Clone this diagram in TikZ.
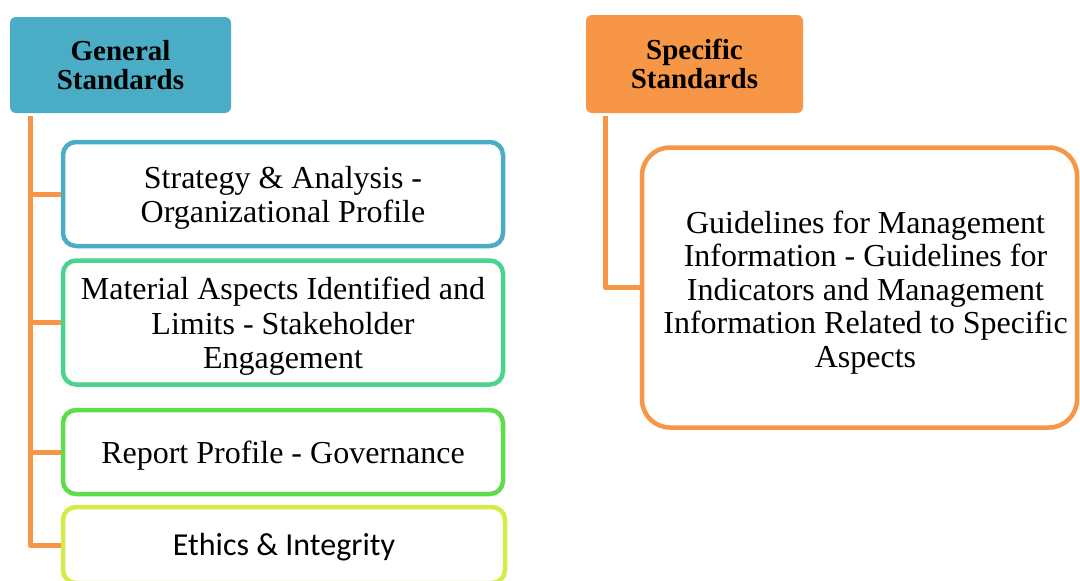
\documentclass[tikz,border=0pt]{standalone}
\usepackage{fontspec}
\setmainfont{Liberation Serif}
\newfontfamily\calibrilike{Carlito}
% fixed first-line height and last-line depth, so text sits a little low in its box
\newcommand\firstline[1]{\rule{0pt}{#1}}
\newcommand\lastline{\rule[-7pt]{0pt}{7pt}}
\begin{document}
\begin{tikzpicture}[x=1pt,y=-1pt,
  header/.style={rectangle, rounded corners=6pt, draw=none, inner sep=0pt,
    align=center, font=\fontsize{29}{29}\selectfont\bfseries, text=black},
  item/.style={rectangle, rounded corners=13pt, draw, line width=4.5pt, fill=white,
    inner sep=0pt, align=center, font=\fontsize{32}{34.5}\selectfont, text=black},
  link/.style={draw=linkorange, line width=5pt, line join=round, line cap=butt}
]
\definecolor{headblue}{HTML}{4BACC6}
\definecolor{headorange}{HTML}{F79646}
\definecolor{linkorange}{HTML}{F79646}
\definecolor{boxblue}{HTML}{4BACC6}
\definecolor{boxteal}{HTML}{4AD38F}
\definecolor{boxgreen}{HTML}{5DDD49}
\definecolor{boxlime}{HTML}{D5EB48}

\clip (0,0) rectangle (1080,581);
\fill[white] (0,0) rectangle (1080,581);

% column heads
\node[header, fill=headblue, minimum width=221pt, minimum height=96pt] (gen) at (120.5,65) {General\\Standards};
\node[header, fill=headorange, minimum width=217pt, minimum height=98pt] (spec) at (694.5,64) {Specific\\Standards};

% general standards items
\node[item, draw=boxblue, minimum width=440pt, minimum height=104pt] (b1) at (283,194)
  {\firstline{30pt}Strategy \& Analysis -\\Organizational Profile\lastline};
\node[item, draw=boxteal, minimum width=440pt, minimum height=124pt] (b2) at (283,322.5)
  {\firstline{30pt}Material Aspects Identified and\\Limits - Stakeholder\\Engagement\lastline};
\node[item, draw=boxgreen, minimum width=440pt, minimum height=84pt] (b3) at (283,452)
  {\firstline{30pt}Report Profile - Governance\lastline};
\node[item, draw=boxlime, minimum width=442pt, minimum height=76pt,
  font=\calibrilike\fontsize{32}{34.5}\selectfont] (b4) at (284,545)
  {\firstline{28pt}Ethics \& Integrity\lastline};

% specific standards item
\node[item, draw=headorange, rounded corners=28pt, minimum width=435pt, minimum height=280pt,
  font=\fontsize{32}{33.5}\selectfont] (rb) at (859.5,287.5)
  {\firstline{32pt}\hspace*{12pt}Guidelines for Management\\\hspace*{12pt}Information - Guidelines for\\\hspace*{12pt}Indicators and Management\\\hspace*{12pt}Information Related to Specific\\\hspace*{12pt}Aspects\lastline};

% connectors
\coordinate (gtrunk) at (30,116);
\coordinate (strunk) at (605,116);
\draw[link] (gtrunk) |- (b4.west);
\draw[link] (gtrunk |- b1.west) -- (b1.west);
\draw[link] (gtrunk |- b2.west) -- (b2.west);
\draw[link] (gtrunk |- b3.west) -- (b3.west);
\draw[link] (strunk) |- (rb.west);
\end{tikzpicture}
\end{document}
